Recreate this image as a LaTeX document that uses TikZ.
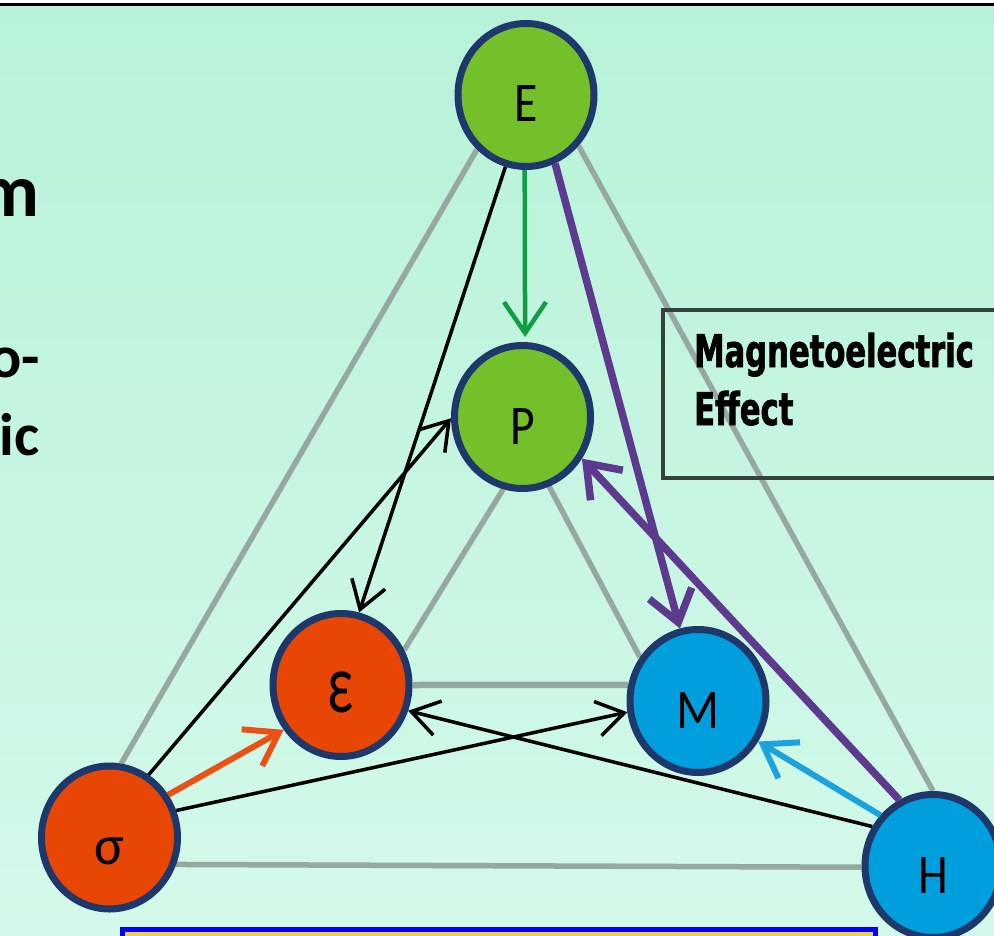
\documentclass[tikz,border=0pt]{standalone}
\usepackage{fontspec}
\usetikzlibrary{shapes.geometric,arrows.meta}
\newfontfamily\lettfont{Carlito}
\newfontfamily\headfont{Carlito}
\newfontfamily\mefont[FakeStretch=0.68,FakeBold=1.5]{DejaVu Sans}
\definecolor{mintA}{RGB}{183,242,216}
\definecolor{mintB}{RGB}{212,249,234}
\definecolor{glin}{RGB}{150,168,160}
\definecolor{navy}{RGB}{30,56,108}
\definecolor{fgreen}{RGB}{116,192,42}
\definecolor{forange}{RGB}{232,70,5}
\definecolor{fblue}{RGB}{0,158,221}
\definecolor{purp}{RGB}{93,58,142}
\definecolor{agreen}{RGB}{16,158,64}
\definecolor{aorange}{RGB}{235,80,20}
\definecolor{ablue}{RGB}{28,162,220}
\definecolor{boxgray}{RGB}{55,65,60}
\definecolor{bblue}{RGB}{0,0,255}
\definecolor{byellow}{RGB}{242,206,68}
\pgfdeclarelayer{bg}
\pgfdeclarelayer{lines}
\pgfsetlayers{bg,lines,main}
\begin{document}
\begin{tikzpicture}[x=1pt,y=-1pt,
  ball/.style={ellipse, minimum width=136pt, minimum height=143pt, inner sep=0pt,
    line width=7pt, draw=navy, text height=54pt, text depth=0pt,
    font=\lettfont\fontsize{56}{60}\selectfont},
  gline/.style={draw=glin, line width=5.5pt},
  blk/.style={draw=black, line width=3.5pt, -{Straight Barb[length=27pt,width=35pt]}},
  col/.style={line width=6pt, -{Straight Barb[length=31pt,width=42pt]}},
  pur/.style={draw=purp, line width=7.5pt, -{Straight Barb[length=30pt,width=44pt]}},
  frag/.style={anchor=base east, inner sep=0pt, text=black}
]
\useasboundingbox (0,0) rectangle (994,936);

% nodes
\node[ball, fill=fgreen] (E) at (526,95) {\scalebox{0.85}[1]{E}};
\node[ball, fill=fgreen] (P) at (522.5,417) {\scalebox{0.85}[1]{P}};
\node[ball, fill=forange] (eps) at (341,685) {\fontsize{84}{84}\selectfont\scalebox{0.68}[1]{ε}};
\node[ball, fill=fblue] (M) at (698,701) {\scalebox{0.9}[1]{M}};
\node[ball, fill=forange] (sigma) at (109.5,837.5) {σ};
\node[ball, fill=fblue] (H) at (933,866) {\scalebox{0.85}[1]{H}};

% left text fragments
\node[frag, font=\headfont\bfseries\fontsize{75}{80}\selectfont] (t1) at (40,217) {m};
\node[frag, font=\headfont\bfseries\fontsize{60}{72}\selectfont] (t2) at (40,377) {o-};
\node[frag, font=\headfont\bfseries\fontsize{60}{72}\selectfont] (t3) at (40,455) {ic};

% magnetoelectric box
\node[draw=boxgray, line width=3.5pt, minimum width=360pt, minimum height=167.5pt,
  anchor=north west, inner sep=0pt] (mebox) at (661,308.5) {};
\node[anchor=base west, inner sep=0pt, font=\mefont\bfseries\fontsize{45}{50}\selectfont] (me1) at (694,367) {Magnetoelectric};
\node[anchor=base west, inner sep=0pt, font=\mefont\bfseries\fontsize{45}{50}\selectfont] (me2) at (694,425) {Effect};

% bottom caption box (cut off)
\node[draw=bblue, fill=byellow, line width=5pt, minimum width=753pt, minimum height=60pt,
  anchor=north west, inner sep=0pt] (cap) at (120,927) {};

% connectors
\draw[col, draw=agreen, line width=4.5pt, shorten >=5pt] (E.-91) -- (P.88);
\draw[pur] (E.-67) -- (M.104);
\draw[pur] (H.117) -- (P.-35);
\draw[blk] (E.-106) -- (eps.76);
\draw[blk] (sigma.58) -- (P.181);
\draw[blk] (sigma.22) -- (M.189);
\draw[blk] (H.147) -- (eps.-21);
\draw[col, draw=aorange] (sigma.36) -- (eps.218);
\draw[col, draw=ablue] (H.136) -- (M.-34);

\begin{pgfonlayer}{lines}
\draw[gline] (E.-132) -- (sigma.81.5);
\draw[gline] (E.-44) -- (H.90);
\draw[gline] (sigma.-22.5) -- (H.181);
\draw[gline] (P.-105) -- (eps.29);
\draw[gline] (P.-69) -- (M.143);
\draw[gline, line width=6.5pt] (eps.0) -- (M.167);
\end{pgfonlayer}

\begin{pgfonlayer}{bg}
\fill[white] (0,0) rectangle (994,936);
\shade[top color=mintA, bottom color=mintB] (0,6.5) rectangle (994,936);
\draw[black, line width=3pt] (0,5) -- (994,5);
\end{pgfonlayer}
\end{tikzpicture}
\end{document}
